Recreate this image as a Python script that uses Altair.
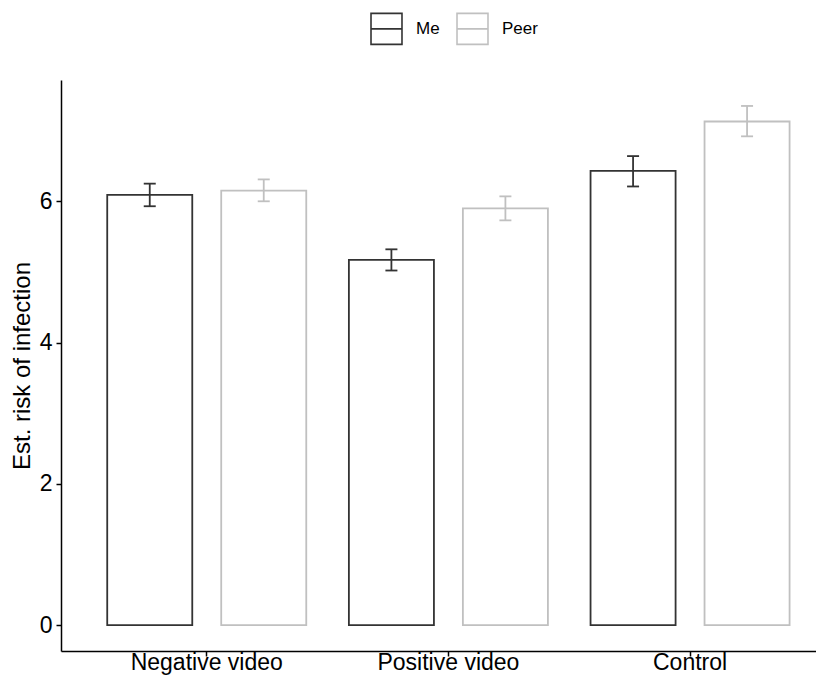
import altair as alt
import pandas as pd

conditions = ["Negative video", "Positive video", "Control"]
groups = ["Me", "Peer"]
me_mean = [6.09, 5.17, 6.43]
me_lo = [5.93, 5.02, 6.21]
me_hi = [6.25, 5.32, 6.64]
peer_mean = [6.15, 5.90, 7.13]
peer_lo = [6.00, 5.73, 6.92]
peer_hi = [6.31, 6.07, 7.35]
colors = ["#333333", "#C0C0C0"]

rows = []
for i, c in enumerate(conditions):
    rows.append({"condition": c, "who": "Me", "mean": me_mean[i], "lo": me_lo[i], "hi": me_hi[i]})
    rows.append({"condition": c, "who": "Peer", "mean": peer_mean[i], "lo": peer_lo[i], "hi": peer_hi[i]})
df = pd.DataFrame(rows)

FONT = "Liberation Sans"
group_scale = alt.Scale(domain=groups, range=colors)

x_enc = alt.X(
    "condition:N",
    sort=conditions,
    title=None,
    scale=alt.Scale(paddingInner=0, paddingOuter=0.0621, align=0.83),
    axis=alt.Axis(labelAngle=0, labelFontSize=23, labelColor="black", tickColor="black",
                  tickSize=5, tickWidth=1.5, domainColor="black", domainWidth=1.5,
                  labelPadding=-5, labelFont=FONT),
)
xoff = alt.XOffset("who:N", sort=groups,
                   scale=alt.Scale(paddingInner=0.254, paddingOuter=0.187))
y_scale = alt.Scale(domain=[-0.3675, 7.7175], nice=False, zero=False)
y_axis = alt.Axis(values=[0, 2, 4, 6], format="d", labelFontSize=23, labelColor="black",
                  labelFont=FONT, tickColor="black", tickSize=5, tickWidth=1.5,
                  domainColor="black", domainWidth=1.5, grid=False, labelPadding=4,
                  title="Est. risk of infection", titleFontSize=24, titleFont=FONT,
                  titleFontWeight="normal", titleColor="black",
                  titleX=-27, titleY=285.5, titleAngle=270, titleBaseline="bottom",
                  titleAlign="center")

base = alt.Chart(df)

bars = base.mark_bar(fill="white", strokeWidth=1.8).encode(
    x=x_enc,
    xOffset=xoff,
    y=alt.Y("mean:Q", scale=y_scale, axis=y_axis),
    y2=alt.datum(0),
    stroke=alt.Stroke(
        "who:N", sort=groups, scale=group_scale,
        legend=alt.Legend(
            title=None, orient="none", legendX=309, legendY=-68, direction="horizontal",
            symbolType="M-1,-1H1V1H-1Z M-1,0H1", symbolSize=960, symbolFillColor="white",
            symbolStrokeWidth=1.6, labelFontSize=17, labelFont=FONT, labelColor="black",
            labelOffset=13, columnPadding=13,
        ),
    ),
)

err_stroke = alt.Stroke("who:N", sort=groups, scale=group_scale, legend=None)
x_plain = alt.X("condition:N", sort=conditions)

rules = base.mark_rule(strokeWidth=1.8).encode(
    x=x_plain, xOffset=xoff, y=alt.Y("lo:Q"), y2="hi:Q", stroke=err_stroke,
)
cap_lo = base.mark_point(shape="M-1,0H1", size=144, filled=False, strokeWidth=1.8,
                         opacity=1).encode(
    x=x_plain, xOffset=xoff, y=alt.Y("lo:Q"), stroke=err_stroke,
)
cap_hi = base.mark_point(shape="M-1,0H1", size=144, filled=False, strokeWidth=1.8,
                         opacity=1).encode(
    x=x_plain, xOffset=xoff, y=alt.Y("hi:Q"), stroke=err_stroke,
)

chart = alt.layer(bars, rules, cap_lo, cap_hi).properties(
    width=755, height=571,
    autosize=alt.AutoSizeParams(type="none"),
    padding={"left": 53, "top": 72, "right": 0, "bottom": 24},
).configure(background="white").configure_view(stroke=None)

chart.save("out.html", embed_options={"renderer": "svg", "actions": False})
